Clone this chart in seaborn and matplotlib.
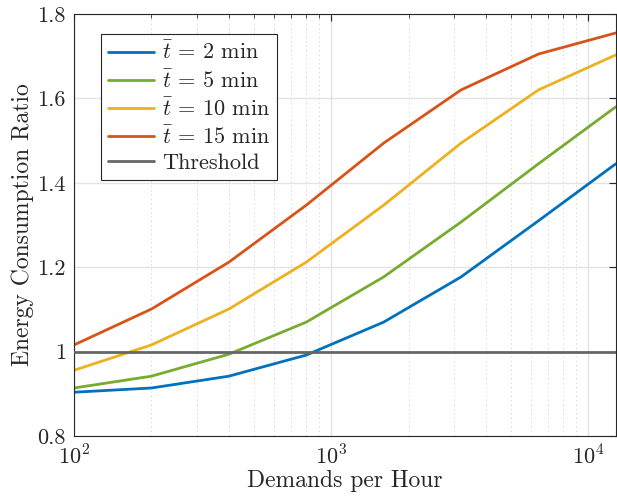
import numpy as np
import pandas as pd
import matplotlib
matplotlib.use("Agg")
import matplotlib.pyplot as plt
import matplotlib.ticker as mticker
import seaborn as sns

# Demands per hour (log-spaced doubling)
demands = [100, 200, 400, 800, 1600, 3200, 6400, 12800]

# Energy consumption ratio for each mean service time
ratio_2min = [0.904, 0.914, 0.942, 0.992, 1.070, 1.177, 1.310, 1.445]
ratio_5min = [0.914, 0.942, 0.994, 1.070, 1.177, 1.307, 1.445, 1.580]
ratio_10min = [0.956, 1.016, 1.101, 1.212, 1.347, 1.494, 1.620, 1.703]
ratio_15min = [1.016, 1.101, 1.212, 1.347, 1.494, 1.620, 1.705, 1.755]

series_labels = [r"$\bar{t}$ = 2 min", r"$\bar{t}$ = 5 min",
                 r"$\bar{t}$ = 10 min", r"$\bar{t}$ = 15 min"]
threshold = 1.0
threshold_label = "Threshold"

x_label = "Demands per Hour"
y_label = "Energy Consumption Ratio"

colors = ["#0072BD", "#77AC30", "#EDB120", "#D95319"]
threshold_color = "#666666"

sns.set_theme(style="white")
plt.rcParams["mathtext.fontset"] = "cm"
plt.rcParams["font.family"] = ["cmr10", "DejaVu Serif"]
plt.rcParams["axes.formatter.use_mathtext"] = True
plt.rcParams["axes.unicode_minus"] = False

frames = []
for lab, vals in zip(series_labels, [ratio_2min, ratio_5min, ratio_10min, ratio_15min]):
    frames.append(pd.DataFrame({"demand": demands, "ratio": vals, "series": lab}))
df = pd.concat(frames, ignore_index=True)

fig = plt.figure(figsize=(6.17, 4.99), dpi=100)
ax = fig.add_axes([0.120, 0.126, 0.878, 0.846])

sns.lineplot(data=df, x="demand", y="ratio", hue="series", palette=colors,
             hue_order=series_labels, linewidth=2.0, ax=ax, legend=False)
ax.axhline(threshold, color=threshold_color, linewidth=2.0, zorder=3)

ax.set_xscale("log")
ax.set_xlim(100, 12800)
ax.set_ylim(0.8, 1.8)

ax.xaxis.set_major_locator(mticker.LogLocator(base=10, numticks=10))
ax.xaxis.set_minor_locator(mticker.LogLocator(base=10, subs=np.arange(2, 10), numticks=20))
ax.xaxis.set_major_formatter(mticker.FuncFormatter(
    lambda v, p: r"$10^{%d}$" % int(round(np.log10(v)))))
ax.xaxis.set_minor_formatter(mticker.NullFormatter())

yticks = [0.8, 1.0, 1.2, 1.4, 1.6, 1.8]
ytick_labels = ["0.8", "1", "1.2", "1.4", "1.6", "1.8"]
ax.set_yticks(yticks)
ax.set_yticklabels(ytick_labels)

ax.grid(True, which="major", color="#e3e3e3", linewidth=1.0, linestyle="-")
ax.grid(True, which="minor", axis="x", color="#d9d9d9", linewidth=0.7, linestyle=(0, (1.5, 3)))
ax.set_axisbelow(True)

ax.tick_params(axis="both", which="both", direction="in", top=True, right=True,
               color="#262626", labelsize=16, labelcolor="#262626")
ax.tick_params(axis="both", which="major", length=5, width=0.8, pad=6)
ax.tick_params(axis="x", which="minor", length=3, width=0.6)
for s in ax.spines.values():
    s.set_color("#262626")
    s.set_linewidth(0.8)

ax.set_xlabel(x_label, fontsize=17, color="#262626", labelpad=1)
ax.set_ylabel(y_label, fontsize=17, color="#262626", labelpad=2)

handles = [plt.Line2D([], [], color=c, linewidth=2.0) for c in colors]
handles.append(plt.Line2D([], [], color=threshold_color, linewidth=2.0))
leg = ax.legend(handles, series_labels + [threshold_label], loc="upper left",
                bbox_to_anchor=(0.050, 0.952), fontsize=16, frameon=True,
                fancybox=False, framealpha=1.0, edgecolor="#262626",
                handlelength=2.1, handletextpad=0.35, labelspacing=0.25,
                borderpad=0.3, borderaxespad=0.0)
leg.get_frame().set_linewidth(0.8)

fig.savefig("out.png", dpi=100)
